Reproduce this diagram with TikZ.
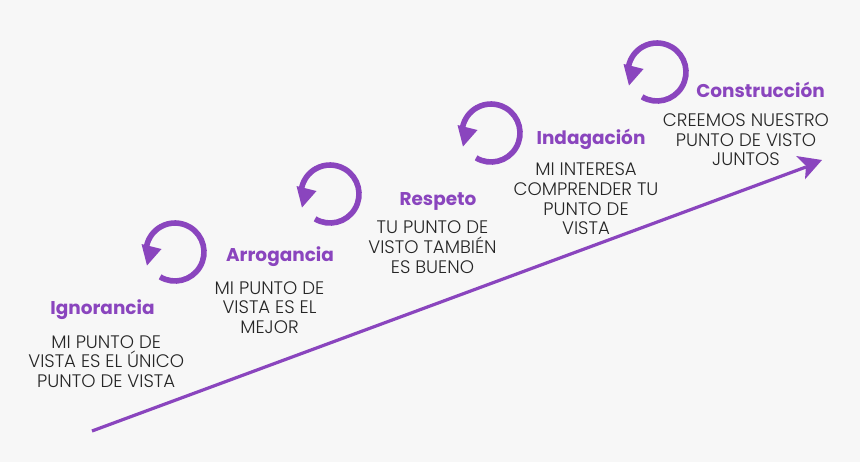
\documentclass[tikz,border=0pt]{standalone}
\usepackage{fontspec}
\setmainfont{Poppins}
\newfontfamily\lightf{Poppins Light}
\definecolor{bgc}{HTML}{F7F7F7}
\definecolor{purp}{HTML}{8A45BE}
\definecolor{ink}{HTML}{262626}
\tikzset{
  x=.75pt,y=.75pt,
  head/.style={text=purp,font=\fontsize{13.85pt}{16pt}\selectfont\bfseries,inner sep=0pt,anchor=center},
  body/.style={text=ink,font=\lightf\fontsize{13.6pt}{14.8pt}\selectfont,align=center,inner sep=0pt,anchor=center},
  cyc/.pic={
    \draw[purp,line width=4.2pt,line cap=butt] (175,210)+(239:29) arc[start angle=239,end angle=528,radius=29];
    \fill[purp] (141.5,218) -- (161.5,213) -- (147,196.5) -- cycle;
  }
}
\begin{document}
\begin{tikzpicture}
\fill[bgc] (0,0) rectangle (860,462);
\useasboundingbox (0,0) rectangle (860,462);
\pic at (0,0) {cyc};
\pic at (155,58) {cyc};
\pic at (316,119) {cyc};
\pic at (482,180) {cyc};
\coordinate (s) at (92,31);
\coordinate (e) at (806,295);
\draw[purp,line width=2.4pt] (s) -- (e);
\fill[purp] (796,306) -- (822,302) -- (805,282.7) -- (806,296) -- cycle;
\node[head] (h1) at (102.5,152.5) {Ignorancia};
\node[body] (b1) at (106.2,100.5) {MI PUNTO DE\\VISTA ES EL ÚNICO\\PUNTO DE VISTA};
\node[head] (h2) at (280,205.5) {Arrogancia};
\node[body] (b2) at (269.5,154.5) {MI PUNTO DE\\VISTA ES EL\\MEJOR};
\node[head] (h3) at (438,261) {Respeto};
\node[body] (b3) at (432.5,215) {TU PUNTO DE\\VISTO TAMBIÉN\\ES BUENO};
\node[head] (h4) at (591,322.5) {Indagación};
\node[body] (b4) at (586,263.2) {MI INTERESA\\COMPRENDER TU\\PUNTO DE\\VISTA};
\node[head] (h5) at (760.5,372.5) {Construcción};
\node[body] (b5) at (746,322.3) {CREEMOS NUESTRO\\PUNTO DE VISTO\\JUNTOS};
\end{tikzpicture}
\end{document}
